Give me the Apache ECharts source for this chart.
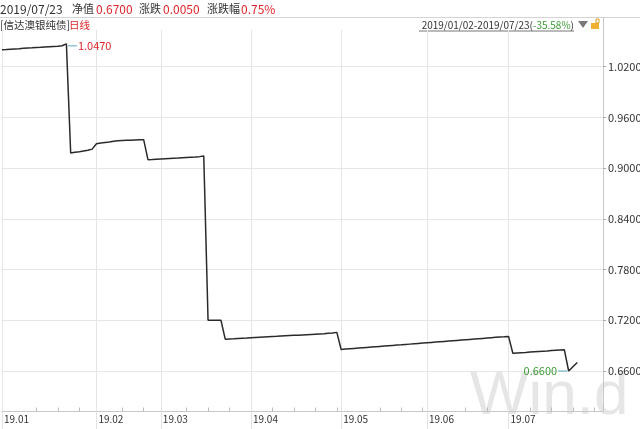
<!DOCTYPE html>
<html>
<head>
<meta charset="utf-8">
<script src="https://cdn.jsdelivr.net/npm/echarts@6/dist/echarts.min.js"></script>
<style>
  html, body { margin: 0; padding: 0; background: #fff; }
  #main { width: 640px; height: 429px; }
</style>
</head>
<body>
<div id="main"></div>
<script>
// 交易日（含7月下旬未到的空位）
const months = ['2019-01', '2019-02', '2019-03', '2019-04', '2019-05', '2019-06', '2019-07'];
const tradeDays = [
  [2, 3, 4, 7, 8, 9, 10, 11, 14, 15, 16, 17, 18, 21, 22, 23, 24, 25, 28, 29, 30, 31],
  [1, 11, 12, 13, 14, 15, 18, 19, 20, 21, 22, 25, 26, 27, 28],
  [1, 4, 5, 6, 7, 8, 11, 12, 13, 14, 15, 18, 19, 20, 21, 22, 25, 26, 27, 28, 29],
  [1, 2, 3, 4, 8, 9, 10, 11, 12, 15, 16, 17, 18, 19, 22, 23, 24, 25, 26, 29, 30],
  [6, 7, 8, 9, 10, 13, 14, 15, 16, 17, 20, 21, 22, 23, 24, 27, 28, 29, 30, 31],
  [3, 4, 5, 6, 10, 11, 12, 13, 14, 17, 18, 19, 20, 21, 24, 25, 26, 27, 28],
  [1, 2, 3, 4, 5, 8, 9, 10, 11, 12, 15, 16, 17, 18, 19, 22, 23, 24, 25, 26, 29, 30, 31]
];

// 单位净值 2019/01/02 - 2019/07/23
const nav = [
  1.0400, 1.0403, 1.0407, 1.0410, 1.0413, 1.0417, 1.0420, 1.0423, 1.0427, 1.0430, 1.0434,
  1.0437, 1.0440, 1.0443, 1.0447, 1.0470, 0.9180, 0.9188, 0.9195, 0.9203, 0.9211, 0.9225,
  0.9288, 0.9296, 0.9303, 0.9310, 0.9318, 0.9325, 0.9328, 0.9330, 0.9331, 0.9333, 0.9335,
  0.9337, 0.9100, 0.9102, 0.9105,
  0.9108, 0.9111, 0.9114, 0.9117, 0.9119, 0.9122, 0.9125, 0.9128, 0.9131, 0.9136, 0.9144,
  0.7200, 0.7200, 0.7201, 0.7200, 0.6977, 0.6980, 0.6982, 0.6985, 0.6988, 0.6990,
  0.6993, 0.6996, 0.6999, 0.7002, 0.7005, 0.7008, 0.7010, 0.7013, 0.7016, 0.7019, 0.7022,
  0.7024, 0.7027, 0.7030, 0.7033, 0.7036, 0.7039, 0.7042, 0.7046, 0.7050, 0.7057,
  0.6855, 0.6859, 0.6863, 0.6867, 0.6871, 0.6875, 0.6879, 0.6883, 0.6887, 0.6891, 0.6895,
  0.6899, 0.6903, 0.6907, 0.6910, 0.6914, 0.6918, 0.6922, 0.6926, 0.6930,
  0.6934, 0.6938, 0.6942, 0.6946, 0.6950, 0.6954, 0.6958, 0.6962, 0.6966, 0.6970, 0.6974,
  0.6978, 0.6982, 0.6986, 0.6990, 0.6994, 0.6998, 0.7002, 0.7005,
  0.7009, 0.6810, 0.6814, 0.6817, 0.6820, 0.6824, 0.6828, 0.6832, 0.6835, 0.6838, 0.6842,
  0.6845, 0.6848, 0.6851, 0.6600, 0.6650, 0.6700
];

const yTicks = [0.66, 0.72, 0.78, 0.84, 0.90, 0.96, 1.02];
const yMin = 0.6121;
const yMax = 1.0634;

const fontCn = '"Noto Sans CJK SC", "Microsoft YaHei", sans-serif';

let dates = [];
for (var m = 0; m < months.length; m++) {
  for (var d = 0; d < tradeDays[m].length; d++) {
    var dd = tradeDays[m][d] < 10 ? '0' + tradeDays[m][d] : '' + tradeDays[m][d];
    dates.push(months[m] + '-' + dd);
  }
}

// 每月第一个交易日
let monthStart = [];
let lastStart = [];
for (var i = 0; i < dates.length; i++) {
  if (i == 0 || dates[i].slice(0, 7) != dates[i - 1].slice(0, 7)) {
    monthStart[i] = true;
  }
  lastStart[i] = monthStart[i] ? i : lastStart[i - 1];
}
function isMonth(index) {
  return !!monthStart[index];
}
function isWeek(index) {
  return index % 5 == 3 && index - lastStart[index] >= 5;
}

let myChart = echarts.init(document.getElementById('main'));
let option = {
  animation: false,
  textStyle: { fontFamily: fontCn },
  grid: {
    left: 2,
    right: 37,
    top: 30,
    bottom: 17.5,
    containLabel: false,
    outerBoundsMode: 'none'
  },
  xAxis: [
    {
      type: 'category',
      position: 'bottom',
      data: dates,
      boundaryGap: false,
      axisLine: { lineStyle: { color: '#c8c8c8' } },
      axisTick: { interval: isWeek, inside: true, length: 4, lineStyle: { color: '#bbb' } },
      axisLabel: { show: false },
      splitLine: { show: false }
    },
    {
      type: 'category',
      position: 'bottom',
      data: dates,
      boundaryGap: false,
      axisLine: { show: false },
      axisTick: { interval: isMonth, length: 18, lineStyle: { color: '#e2e2e2' } },
      axisLabel: {
        interval: isMonth,
        align: 'left',
        margin: 3,
        padding: [0, 0, 0, 2],
        fontSize: 10,
        color: '#333',
        formatter: function (v) {
          return v.slice(2, 4) + '.' + v.slice(5, 7);
        }
      },
      splitLine: { show: true, interval: isMonth, lineStyle: { color: '#e6e6e6' } }
    }
  ],
  yAxis: {
    type: 'value',
    position: 'right',
    min: yMin,
    max: yMax,
    axisLine: { show: true, lineStyle: { color: '#c8c8c8' } },
    axisTick: { show: true, length: 3, customValues: yTicks, lineStyle: { color: '#aaa' } },
    axisLabel: {
      customValues: yTicks,
      margin: 5,
      fontSize: 11,
      color: '#333',
      formatter: function (v) {
        return v.toFixed(4);
      }
    },
    splitLine: { show: true, lineStyle: { color: '#e6e6e6' } }
  },
  series: [
    {
      name: '信达澳银纯债',
      type: 'line',
      data: nav,
      showSymbol: false,
      symbol: 'none',
      lineStyle: { color: '#2a2a2a', width: 1.5 },
      markPoint: {
        symbol: 'rect',
        symbolSize: [9, 1],
        silent: true,
        label: {
          show: true,
          fontSize: 11,
          formatter: function (p) {
            return p.value.toFixed(4);
          }
        },
        data: [
          { type: 'max', symbolOffset: [6, 2], itemStyle: { color: '#5aa9c0' }, label: { position: 'right', distance: 1, color: '#e0262b' } },
          { type: 'min', symbolOffset: [-6, 0], itemStyle: { color: '#5aa9c0' }, label: { position: 'left', distance: 1, color: '#3d9b35' } }
        ]
      }
    }
  ],
  graphic: [
    // 水印
    {
      type: 'text', z: -10, silent: true, x: 470, y: 397,
      style: { text: 'Win.d', fill: '#e6e6e6', font: '62px "Liberation Sans", Arial, sans-serif', verticalAlign: 'middle' }
    },
    // 顶部分隔线
    { type: 'line', shape: { x1: 0, y1: 17.5, x2: 640, y2: 17.5 }, style: { stroke: '#d4d4d4', lineWidth: 1 } },
    { type: 'line', shape: { x1: 603.5, y1: 17.5, x2: 603.5, y2: 30 }, style: { stroke: '#c8c8c8', lineWidth: 1 } },
    { type: 'text', x: 0, y: 9, style: { text: '2019/07/23', fill: '#333', font: '12px ' + fontCn, verticalAlign: 'middle' } },
    { type: 'text', x: 72, y: 9, style: { text: '净值', fill: '#333', font: '11px ' + fontCn, verticalAlign: 'middle' } },
    { type: 'text', x: 96, y: 9, style: { text: '0.6700', fill: '#e0262b', font: '12px ' + fontCn, verticalAlign: 'middle' } },
    { type: 'text', x: 139, y: 9, style: { text: '涨跌', fill: '#333', font: '11px ' + fontCn, verticalAlign: 'middle' } },
    { type: 'text', x: 163, y: 9, style: { text: '0.0050', fill: '#e0262b', font: '12px ' + fontCn, verticalAlign: 'middle' } },
    { type: 'text', x: 207, y: 9, style: { text: '涨跌幅', fill: '#333', font: '11px ' + fontCn, verticalAlign: 'middle' } },
    { type: 'text', x: 241, y: 9, style: { text: '0.75%', fill: '#e0262b', font: '12px ' + fontCn, verticalAlign: 'middle' } },
    { type: 'text', x: 0, y: 25, style: { text: '[信达澳银纯债]', fill: '#333', font: '10.5px ' + fontCn, verticalAlign: 'middle' } },
    { type: 'text', x: 69, y: 25, style: { text: '日线', fill: '#e0262b', font: '10.5px ' + fontCn, verticalAlign: 'middle' } },
    {
      type: 'text', x: 574, y: 25,
      style: {
        text: '{a|2019/01/02-2019/07/23(}{g|-35.58%}{a|)}',
        font: '10px ' + fontCn,
        align: 'right',
        verticalAlign: 'middle',
        rich: {
          a: { fill: '#333', fontSize: 10, fontFamily: fontCn },
          g: { fill: '#3d9b35', fontSize: 10, fontFamily: fontCn }
        }
      }
    },
    { type: 'line', shape: { x1: 419, y1: 31, x2: 574, y2: 31 }, style: { stroke: '#777', lineWidth: 1 } },
    { type: 'polygon', shape: { points: [[578, 21], [588, 21], [583, 28]] }, style: { fill: '#7a7a7a' } },
    { type: 'rect', shape: { x: 591, y: 23, width: 8, height: 6 }, style: { fill: '#f0b030' } },
    { type: 'rect', shape: { x: 596, y: 19, width: 3, height: 4 }, style: { fill: 'none', stroke: '#e0a020', lineWidth: 1 } }
  ]
};
myChart.setOption(option);
</script>
</body>
</html>
